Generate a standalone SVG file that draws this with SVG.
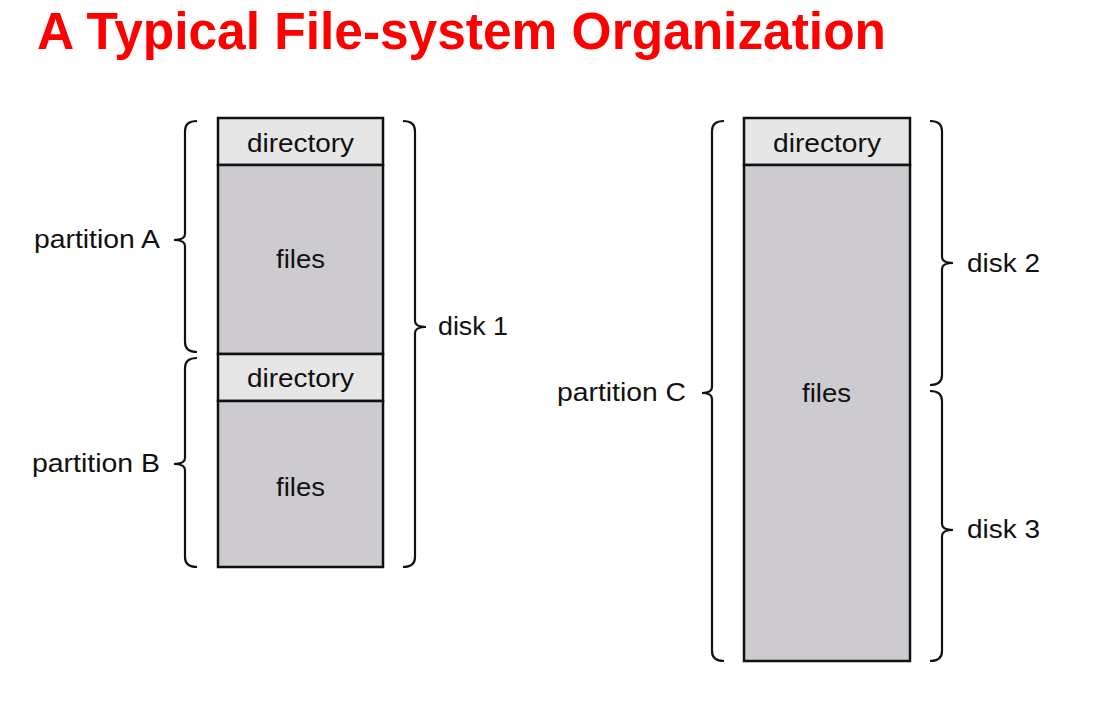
<svg xmlns="http://www.w3.org/2000/svg" width="1102" height="701" viewBox="0 0 1102 701">
<style>
.title{font-family:"Liberation Sans",Arial,sans-serif;font-weight:bold;font-size:51px;fill:#ff0000}
.lbl{font-family:"Liberation Sans",Arial,sans-serif;font-size:25px;fill:#111}
.dir{fill:#e6e6e6;stroke:#111;stroke-width:2.5}
.fil{fill:#cdcbcf;stroke:#111;stroke-width:2.5}
.br{fill:none;stroke:#111;stroke-width:2.2}
</style>
<rect width="1102" height="701" fill="#fff"/>
<text class="title" x="37" y="49" textLength="849" lengthAdjust="spacingAndGlyphs">A Typical File-system Organization</text>
<g id="disk1-stack">
<g id="dirA"><rect class="dir" x="218" y="118" width="165" height="47"/><text class="lbl" x="247" y="152" textLength="107" lengthAdjust="spacingAndGlyphs">directory</text></g>
<g id="filesA"><rect class="fil" x="218" y="165" width="165" height="189"/><text class="lbl" x="276" y="268" textLength="49" lengthAdjust="spacingAndGlyphs">files</text></g>
<g id="dirB"><rect class="dir" x="218" y="354" width="165" height="47"/><text class="lbl" x="247" y="387" textLength="107" lengthAdjust="spacingAndGlyphs">directory</text></g>
<g id="filesB"><rect class="fil" x="218" y="401" width="165" height="166"/><text class="lbl" x="276" y="496" textLength="49" lengthAdjust="spacingAndGlyphs">files</text></g>
</g>
<g id="diskC-stack">
<g id="dirC"><rect class="dir" x="744" y="118" width="166" height="47"/><text class="lbl" x="773" y="152" textLength="108" lengthAdjust="spacingAndGlyphs">directory</text></g>
<g id="filesC"><rect class="fil" x="744" y="165" width="166" height="496"/><text class="lbl" x="802" y="402" textLength="49" lengthAdjust="spacingAndGlyphs">files</text></g>
</g>
<g id="braces">
<path class="br" d="M197,121 Q185,121 185,131 L185,234 Q185,240 174,240 Q185,240 185,246 L185,342 Q185,352 197,352"/>
<path class="br" d="M197,358 Q185,358 185,368 L185,458 Q185,464 174,464 Q185,464 185,470 L185,557 Q185,567 197,567"/>
<path class="br" d="M403,121 Q415,121 415,131 L415,321 Q415,327 426,327 Q415,327 415,333 L415,557 Q415,567 403,567"/>
<path class="br" d="M724,121 Q712,121 712,131 L712,387 Q712,393 702,393 Q712,393 712,399 L712,651 Q712,661 724,661"/>
<path class="br" d="M930,121 Q942,121 942,131 L942,257 Q942,263 953,263 Q942,263 942,269 L942,375 Q942,385 930,385"/>
<path class="br" d="M930,391 Q942,391 942,401 L942,524 Q942,530 953,530 Q942,530 942,536 L942,651 Q942,661 930,661"/>
</g>
<g id="labels">
<text class="lbl" x="34" y="248" textLength="126" lengthAdjust="spacingAndGlyphs">partition A</text>
<text class="lbl" x="32" y="472" textLength="128" lengthAdjust="spacingAndGlyphs">partition B</text>
<text class="lbl" x="438" y="335" textLength="70" lengthAdjust="spacingAndGlyphs">disk 1</text>
<text class="lbl" x="557" y="401" textLength="129" lengthAdjust="spacingAndGlyphs">partition C</text>
<text class="lbl" x="967" y="272" textLength="73" lengthAdjust="spacingAndGlyphs">disk 2</text>
<text class="lbl" x="967" y="538" textLength="73" lengthAdjust="spacingAndGlyphs">disk 3</text>
</g>
</svg>
